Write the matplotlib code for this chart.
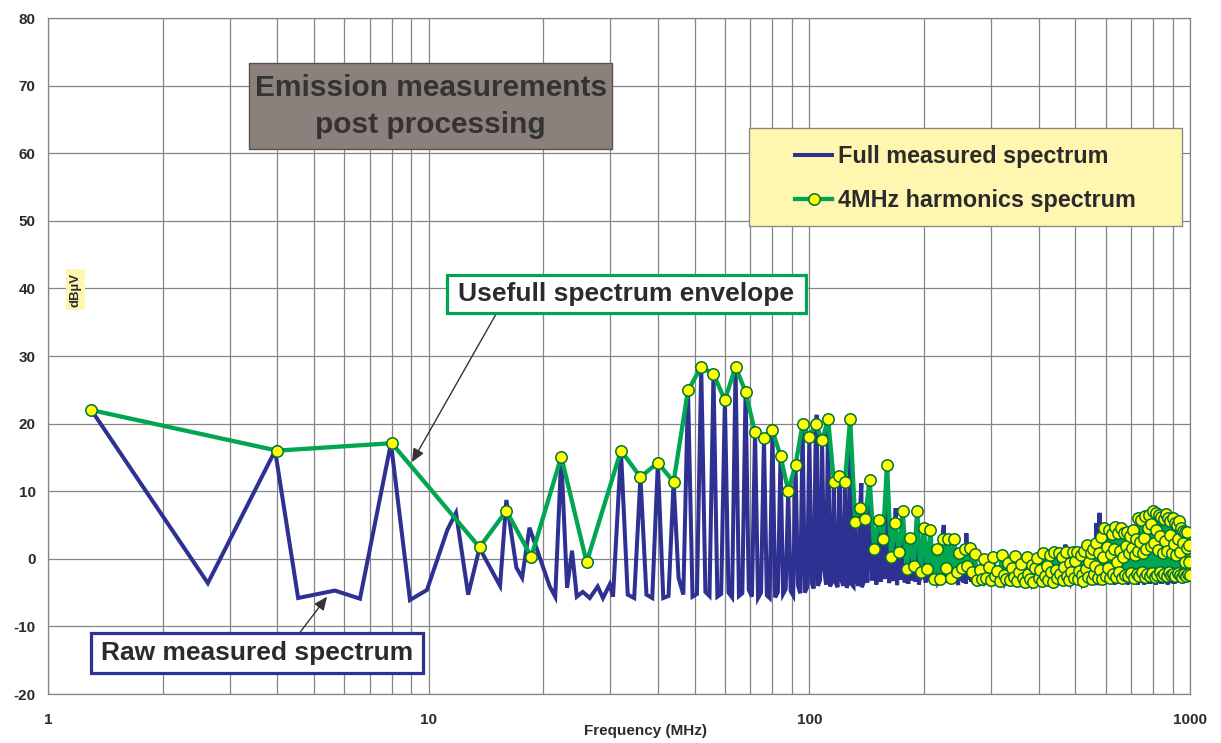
import numpy as np
import matplotlib
matplotlib.use("Agg")
import matplotlib.pyplot as plt
from matplotlib.patches import Rectangle
from matplotlib.ticker import LogLocator, NullFormatter, FixedLocator, FixedFormatter

plt.rcParams['font.family'] = ['Liberation Sans', 'DejaVu Sans']
plt.rcParams['axes.unicode_minus'] = False

# ---------------- data ----------------
# envelope points below 32 MHz
env_low_freq = [1.3, 4.0, 8.0, 13.6, 16.0, 18.6, 22.3, 26.0]
env_low_val = [22.0, 16.0, 17.1, 1.7, 7.1, 0.3, 15.1, -0.5]

# 4 MHz harmonics 32 ... 1000 MHz
harm_start, harm_stop, harm_step = 32, 1000, 4
harm_val = [
    16.0, 12.1, 14.2, 11.4, 24.9, 28.4, 27.3, 23.5, 28.4, 24.7,
    18.7, 17.8, 19.0, 15.2, 10.1, 13.9, 19.9, 18.0, 20.0, 17.5,
    20.7, 11.4, 12.2, 11.4, 20.7, 5.4, 7.5, 5.9, 11.7, 1.5,
    5.8, 3.0, 13.9, 0.2, 5.3, 1.0, 7.0, -1.5, 3.1, -1.1,
    7.1, -1.9, 4.5, -1.5, 4.3, -3.0, 1.5, -3.0, 3.0, -1.4,
    3.0, -2.9, 3.0, -1.9, 0.8, -1.4, 1.5, -1.0, 1.6, -1.9,
    0.7, -3.1, -1.6, -3.0, -0.1, -2.9,
    -1.2, -3.2, 0.3, -2.6, -1.8, -3.3, 0.5, -2.4, -3.0, -0.6,
    -3.1, -1.4, -2.7, 0.4, -3.3, -1.9, -0.8, -2.9, -3.4, 0.2,
    -2.2, -3.0, -0.9, -3.5, -1.3, 0.1, -2.8, -1.7, -3.3, 0.9,
    -2.5, -1.1, -3.2, 0.6, -2.0, -3.4, 1.0, -1.6, -2.9, 0.8,
    -2.3, 0.3, -3.1, -1.2, 1.0, -2.6, -3.2, -0.6, -2.0, 1.0,
    -2.8, -0.3, 1.0, -3.0, -1.8, 0.6, -2.4, -3.3, 1.2, -1.5,
    2.1, -2.7, -0.5, 0.9, -3.0, 1.5, -2.2, -1.0, 2.4, -2.8,
    0.9, -1.6, 3.2, -3.0, 0.2, 4.6, -2.5, 1.8, -1.3, 4.3,
    -2.9, 0.7, 3.6, -2.2, 1.5, 4.7, -2.7, -0.4, 3.8, -2.0,
    1.2, 4.6, -2.8, 0.3, 3.8, -2.4, 1.9, 4.0, -2.6, 0.8,
    3.4, -2.1, 1.6, 4.2, -2.8, 0.5, 2.9, -2.3, 6.1, 1.1,
    -2.5, 2.5, 5.8, -2.0, 0.8, 3.1, -2.7, 6.4, 1.4, -2.2,
    4.6, 6.5, -2.6, 1.9, 5.2, -2.1, 7.0, 2.3, -2.7, 4.2,
    6.8, -2.4, 1.3, 6.5, -2.0, 3.4, 6.2, -2.6, 0.9, 5.9,
    -2.3, 2.7, 6.6, -2.5, 1.2, 6.1, -1.9, 3.5, 5.6, -2.4,
    0.9, 6.1, -2.2, 2.2, 5.3, -2.6, 0.6, 5.0, -2.1, 3.0,
    5.6, -2.4, 1.0, 4.6, -2.7, 2.4, 4.1, -2.2, -0.4, 3.9,
    -2.5, 1.6, 4.0, -2.3, -0.4, 2.1, -2.4,
]

# full measured spectrum below 32 MHz
raw_low_freq = [1.3, 2.63, 3.95, 4.54, 5.67, 6.6, 7.96, 8.93, 9.9, 11.2,
                11.8, 12.7, 13.6, 15.4, 16.0, 17.0, 17.6, 18.4, 20.8, 21.5,
                22.3, 23.1, 23.8, 24.5, 25.4, 26.5, 27.8, 28.7, 29.9, 30.5]
raw_low_val = [22.0, -3.6, 16.0, -5.8, -4.7, -5.9, 17.1, -6.1, -4.6, 4.3,
               6.8, -5.3, 1.6, -4.0, 8.7, -1.3, -2.8, 4.6, -4.1, -5.6,
               15.1, -4.3, 1.2, -5.6, -4.9, -5.8, -4.1, -5.8, -3.8, -5.6]

# dips between harmonics, 32-140 MHz (two samples per gap)
raw_dip_pairs = [
    -5.3, -5.8, -5.3, -5.8, -5.8, -5.5, -2.8, -5.3, -5.6, -5.2,
    -4.9, -5.5, -5.6, -5.2, -5.0, -5.7, -5.5, -5.1, -4.6, -5.6,
    -5.8, -5.0, -5.4, -5.8, -5.7, -4.9, -5.2, -4.5, -4.8, -5.4,
    -3.9, -5.1, -5.0, -4.2, -3.5, -4.4, -4.0, -3.2, -1.5, -3.8,
    -4.1, -3.4, -3.6, -4.2, -3.0, -4.0, -4.3, -3.5, -3.8, -4.1,
    -3.3, -4.0, -4.2, -3.6,
]
# floor between harmonics, 140-1000 MHz (one sample per gap)
raw_floor = [
    -3.5, -3.2, -3.8, -3.4, -3.0, -3.6, -3.3, -3.9, -3.1, -3.5,
    -3.7, -3.2, -3.4, -3.8, -3.0, -3.5, -3.3, -3.6, -3.1, -3.4,
    -3.8, -3.3, -3.5, -3.0, -3.6, -3.4, -3.9, -3.2, -3.5, -3.7,
    -3.1, -3.4, -3.6, -3.3, -3.8, -3.0, -3.5, -3.2, -3.7, -3.4,
    -3.3, -3.6, -3.1, -3.5, -3.8, -3.2, -3.4, -3.7, -3.0, -3.5,
    -3.6, -3.3, -3.9, -3.1, -3.4, -3.6, -3.2, -3.5, -3.8, -3.3,
    -3.4, -3.7, -3.0, -3.5, -3.3, -3.8, -3.2, -3.6, -3.4, -3.1,
    -3.5, -3.2, -3.7, -3.4, -3.9, -3.1, -3.6, -3.3, -3.5, -3.8,
    -3.2, -3.5, -3.3, -3.7, -3.0, -3.4, -3.6, -3.2, -3.8, -3.5,
    -3.3, -3.6, -3.4, -3.1, -3.7, -3.5, -3.2, -3.8, -3.4, -3.6,
    -3.0, -3.5, -3.3, -3.7, -3.4, -3.2, -3.6, -3.9, -3.1, -3.5,
    -3.4, -3.8, -3.2, -3.5, -3.6, -3.3, -3.0, -3.7, -3.4, -3.2,
    -3.6, -3.3, -3.5, -3.8, -3.1, -3.4, -3.7, -3.2, -3.5, -3.3,
    -3.7, -3.4, -3.1, -3.6, -3.3, -3.5, -3.8, -3.2, -3.4, -3.6,
    -3.2, -3.5, -3.7, -3.3, -3.0, -3.6, -3.4, -3.8, -3.1, -3.5,
    -3.4, -3.2, -3.6, -3.5, -3.8, -3.3, -3.1, -3.7, -3.4, -3.2,
    -3.5, -3.7, -3.3, -3.0, -3.6, -3.4, -3.2, -3.5, -3.8, -3.3,
    -3.1, -3.4, -3.6, -3.2, -3.5, -3.7, -3.3, -3.0, -3.4, -3.6,
    -3.3, -3.5, -3.2, -3.8, -3.4, -3.1, -3.6, -3.3, -3.5, -3.2,
    -3.6, -3.4, -3.7, -3.1, -3.3, -3.5, -3.2, -3.4, -3.0, -3.3,
    -3.2, -3.5, -3.3, -3.6, -3.1, -3.4, -3.2, -3.5, -3.3, -3.0,
    -3.4, -3.1, -3.3, -2.9, -3.2,
]
# narrow spikes of the raw spectrum that rise above the harmonics
raw_spike_freq = [104.6, 137.0, 168.6, 225.5, 258.5, 470.5, 566.5, 578.5]
raw_spike_val = [21.3, 11.2, 7.5, 5.0, 3.8, 2.1, 5.3, 6.8]

# ---------------- build series ----------------
harm_freq = np.arange(harm_start, harm_stop + 1, harm_step, dtype=float)
assert len(harm_freq) == len(harm_val)

env_freq = np.concatenate([env_low_freq, harm_freq])
env_val = np.concatenate([env_low_val, harm_val])

raw_f = list(raw_low_freq)
raw_v = list(raw_low_val)
k2 = 0
k1 = 0
for i, f in enumerate(harm_freq):
    raw_f.append(f)
    raw_v.append(harm_val[i])
    if i == len(harm_freq) - 1:
        break
    if f < 140:
        raw_f += [f + harm_step / 3, f + 2 * harm_step / 3]
        raw_v += [raw_dip_pairs[k2], raw_dip_pairs[k2 + 1]]
        k2 += 2
    else:
        raw_f.append(f + harm_step / 2)
        raw_v.append(raw_floor[k1])
        k1 += 1
raw_f += raw_spike_freq
raw_v += raw_spike_val
order = np.argsort(raw_f, kind='stable')
raw_f = np.array(raw_f)[order]
raw_v = np.array(raw_v)[order]

# ---------------- figure ----------------
W, H = 1221, 743
fig = plt.figure(figsize=(W / 100, H / 100), dpi=100)
ax = fig.add_axes([48 / W, 1 - 694 / H, (1190 - 48) / W, (694 - 18) / H])

BLUE = '#2e3192'
GREEN = '#00a651'
TXT = '#2b2b2b'
GRID = '#858585'

ax.plot(raw_f, raw_v, color=BLUE, lw=2.9, zorder=3, solid_joinstyle='miter',
        label='Full measured spectrum')
ax.plot(env_freq, env_val, color=GREEN, lw=3.1, zorder=4, marker='o', ms=8.2,
        mfc='#ffff00', mec='#00703c', mew=1.1,
        label='4MHz harmonics spectrum')

ax.set_xscale('log')
ax.set_xlim(1, 1000)
ax.set_ylim(-20, 80)
ax.set_yticks(np.arange(-20, 81, 10))
ax.xaxis.set_major_locator(FixedLocator([1, 10, 100, 1000]))
ax.xaxis.set_major_formatter(FixedFormatter(['1', '10', '100', '1000']))
ax.xaxis.set_minor_locator(LogLocator(base=10, subs=np.arange(2, 10)))
ax.xaxis.set_minor_formatter(NullFormatter())
ax.grid(True, which='both', axis='x', color=GRID, lw=0.9)
ax.grid(True, which='major', axis='y', color=GRID, lw=0.9)
ax.set_axisbelow(True)
for s in ax.spines.values():
    s.set_color(GRID)
    s.set_linewidth(0.9)
ax.tick_params(axis='both', which='both', length=0, labelsize=11, colors=TXT)
ax.tick_params(axis='y', pad=9)
ax.tick_params(axis='x', pad=14)
for lab in ax.get_xticklabels() + ax.get_yticklabels():
    lab.set_fontweight('bold')

ax.set_xlabel('Frequency (MHz)', fontsize=11, fontweight='bold', color=TXT)
ax.xaxis.set_label_coords((646 - 48) / 1142, (694 - 731) / 676)
ax.xaxis.label.set_va('center')

ax.text(0.024, 0.598, 'dBµV', transform=ax.transAxes, rotation=90,
        ha='center', va='center', fontsize=9.5, fontweight='bold', color=TXT,
        bbox=dict(boxstyle='square,pad=0.25', fc='#fff7b0', ec='none'), zorder=6)

# title box
ax.add_patch(Rectangle((0.176, 0.806), 0.318, 0.127, transform=ax.transAxes,
                       fc='#8c807c', ec='#5a5050', lw=1.0, zorder=6))
ax.text(0.335, 0.896, 'Emission measurements', transform=ax.transAxes,
        ha='center', va='center', fontsize=21.5, fontweight='bold', color='#333333', zorder=7)
ax.text(0.335, 0.842, 'post processing', transform=ax.transAxes,
        ha='center', va='center', fontsize=21.5, fontweight='bold', color='#333333', zorder=7)

# legend box
ax.add_patch(Rectangle((0.614, 0.692), 0.379, 0.145, transform=ax.transAxes,
                       fc='#fff7b0', ec='#8a8a8a', lw=1.0, zorder=6))
leg = ax.legend(loc='center left', bbox_to_anchor=(0.654, 0.7626), frameon=False,
                borderpad=0, borderaxespad=0, handlelength=1.6, handletextpad=0.25,
                labelspacing=0.9, prop=dict(size=16.8, weight='bold'))
leg.set_zorder(7)
for t in leg.get_texts():
    t.set_color(TXT)

# annotation boxes
ax.add_patch(Rectangle((0.349, 0.564), 0.315, 0.056, transform=ax.transAxes,
                       fc='white', ec=GREEN, lw=2.3, zorder=6))
ax.text(0.5065, 0.592, 'Usefull spectrum envelope', transform=ax.transAxes,
        ha='center', va='center', fontsize=19, fontweight='bold', color=TXT, zorder=7)
ax.annotate('', xy=(9.04, 14.3), xytext=(15.1, 36.4),
            arrowprops=dict(arrowstyle='-|>,head_length=0.8,head_width=0.35',
                            color='#333333', lw=1.0, shrinkA=0, shrinkB=0), zorder=5)

ax.add_patch(Rectangle((0.0377, 0.031), 0.291, 0.059, transform=ax.transAxes,
                       fc='white', ec=BLUE, lw=2.3, zorder=6))
ax.text(0.183, 0.061, 'Raw measured spectrum', transform=ax.transAxes,
        ha='center', va='center', fontsize=19, fontweight='bold', color=TXT, zorder=7)
ax.annotate('', xy=(5.41, -5.6), xytext=(4.59, -10.9),
            arrowprops=dict(arrowstyle='-|>,head_length=0.8,head_width=0.35',
                            color='#333333', lw=1.0, shrinkA=0, shrinkB=0), zorder=5)

fig.savefig('out.png', dpi=100)
